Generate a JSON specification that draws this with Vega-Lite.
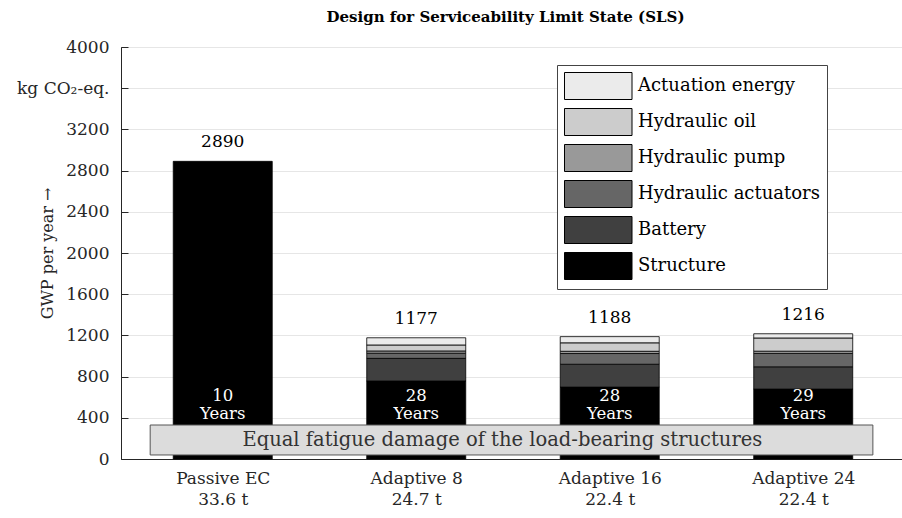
{
  "$schema": "https://vega.github.io/schema/vega-lite/v6.json",
  "autosize": "none",
  "width": 783,
  "height": 412,
  "padding": {"left": 121, "top": 47, "right": 0, "bottom": 59},
  "background": "#ffffff",
  "title": {
    "text": "Design for Serviceability Limit State (SLS)",
    "font": "DejaVu Serif",
    "fontSize": 15,
    "fontWeight": "bold",
    "color": "#000000",
    "anchor": "middle",
    "dx": -7,
    "offset": 13
  },
  "config": {
    "font": "DejaVu Serif",
    "view": {"stroke": "#262626", "strokeWidth": 1},
    "axis": {
      "labelFont": "DejaVu Serif",
      "labelFontSize": 17,
      "labelColor": "#262626",
      "titleFont": "DejaVu Serif",
      "titleFontSize": 16,
      "titleFontWeight": "normal",
      "titleColor": "#262626",
      "domainColor": "#262626",
      "tickColor": "#262626",
      "gridColor": "#e6e6e6"
    }
  },
  "datasets": {
    "parts": [
      {"pos": 1, "comp": "Structure", "val": 2890, "ord": 1},
      {"pos": 2, "comp": "Structure", "val": 757, "ord": 1},
      {"pos": 2, "comp": "Battery", "val": 220, "ord": 2},
      {"pos": 2, "comp": "Hydraulic actuators", "val": 50, "ord": 3},
      {"pos": 2, "comp": "Hydraulic pump", "val": 22, "ord": 4},
      {"pos": 2, "comp": "Hydraulic oil", "val": 58, "ord": 5},
      {"pos": 2, "comp": "Actuation energy", "val": 70, "ord": 6},
      {"pos": 3, "comp": "Structure", "val": 698, "ord": 1},
      {"pos": 3, "comp": "Battery", "val": 222, "ord": 2},
      {"pos": 3, "comp": "Hydraulic actuators", "val": 104, "ord": 3},
      {"pos": 3, "comp": "Hydraulic pump", "val": 22, "ord": 4},
      {"pos": 3, "comp": "Hydraulic oil", "val": 82, "ord": 5},
      {"pos": 3, "comp": "Actuation energy", "val": 60, "ord": 6},
      {"pos": 4, "comp": "Structure", "val": 679, "ord": 1},
      {"pos": 4, "comp": "Battery", "val": 216, "ord": 2},
      {"pos": 4, "comp": "Hydraulic actuators", "val": 130, "ord": 3},
      {"pos": 4, "comp": "Hydraulic pump", "val": 22, "ord": 4},
      {"pos": 4, "comp": "Hydraulic oil", "val": 128, "ord": 5},
      {"pos": 4, "comp": "Actuation energy", "val": 41, "ord": 6}
    ],
    "totals": [
      {"pos": 1, "total": 2890, "years": "10", "ylab": 614},
      {"pos": 2, "total": 1177, "years": "28", "ylab": 614},
      {"pos": 3, "total": 1188, "years": "28", "ylab": 614},
      {"pos": 4, "total": 1216, "years": "29", "ylab": 614}
    ],
    "note": [
      {"x1": 0.625, "x2": 4.36, "y1": 39, "y2": 330, "tx": 2.445, "ty": 184, "text": "Equal fatigue damage of the load-bearing structures"}
    ]
  },
  "layer": [
    {
      "data": {"name": "parts"},
      "mark": {"type": "bar", "size": 99, "stroke": "#000000", "strokeWidth": 0.8},
      "encoding": {
        "x": {
          "field": "pos", "type": "quantitative",
          "scale": {"domain": [0.5, 4.495], "nice": false, "zero": false},
          "axis": {
            "title": null,
            "values": [1, 2, 3, 4],
            "grid": false,
            "tickSize": -5,
            "labelPadding": 16,
            "labelLineHeight": 21,
            "labelExpr": "datum.value == 1 ? ['Passive EC', '33.6 t'] : datum.value == 2 ? ['Adaptive 8', '24.7 t'] : datum.value == 3 ? ['Adaptive 16', '22.4 t'] : ['Adaptive 24', '22.4 t']"
          }
        },
        "y": {
          "field": "val", "type": "quantitative", "stack": "zero",
          "scale": {"domain": [0, 4000], "nice": false},
          "axis": {
            "title": "GWP per year →",
            "values": [0, 400, 800, 1200, 1600, 2000, 2400, 2800, 3200, 3600, 4000],
            "format": "d",
            "grid": true,
            "tickSize": -7,
            "labelPadding": 19,
            "labelExpr": "datum.value == 3600 ? 'kg CO₂-eq.' : datum.label",
            "titleX": -74,
            "titleY": 206,
            "titleAngle": -90,
            "titleAlign": "center",
            "titleBaseline": "middle"
          }
        },
        "color": {
          "field": "comp", "type": "nominal",
          "scale": {
            "domain": ["Actuation energy", "Hydraulic oil", "Hydraulic pump", "Hydraulic actuators", "Battery", "Structure"],
            "range": ["#ebebeb", "#cccccc", "#999999", "#666666", "#404040", "#000000"]
          },
          "legend": {
            "title": null,
            "orient": "none",
            "legendX": 436,
            "legendY": 18,
            "symbolType": "M-1,-1H4V1H-1Z",
            "symbolSize": 729,
            "symbolStrokeColor": "#000000",
            "symbolStrokeWidth": 1,
            "symbolOpacity": 1,
            "labelFont": "DejaVu Serif",
            "labelFontSize": 18,
            "labelColor": "#000000",
            "labelLimit": 0,
            "labelOffset": 46,
            "rowPadding": 4,
            "padding": 7,
            "strokeColor": "#444444",
            "fillColor": "#ffffff"
          }
        },
        "order": {"field": "ord", "type": "quantitative"}
      }
    },
    {
      "data": {"name": "totals"},
      "mark": {"type": "text", "dy": -10, "baseline": "bottom", "fontSize": 17, "color": "#000000", "font": "DejaVu Serif"},
      "encoding": {
        "x": {"field": "pos", "type": "quantitative"},
        "y": {"field": "total", "type": "quantitative"},
        "text": {"field": "total", "type": "quantitative", "format": "d"}
      }
    },
    {
      "data": {"name": "totals"},
      "transform": [{"calculate": "[datum.years, 'Years']", "as": "lab"}],
      "mark": {"type": "text", "baseline": "middle", "lineHeight": 18, "fontSize": 16.5, "color": "#ffffff", "font": "DejaVu Serif"},
      "encoding": {
        "x": {"field": "pos", "type": "quantitative"},
        "y": {"field": "ylab", "type": "quantitative"},
        "text": {"field": "lab"}
      }
    },
    {
      "data": {"name": "note"},
      "mark": {"type": "rect", "fill": "#dcdcdc", "stroke": "#555555", "strokeWidth": 1},
      "encoding": {
        "x": {"field": "x1", "type": "quantitative"},
        "x2": {"field": "x2"},
        "y": {"field": "y1", "type": "quantitative"},
        "y2": {"field": "y2"}
      }
    },
    {
      "data": {"name": "note"},
      "mark": {"type": "text", "baseline": "middle", "fontSize": 19.5, "color": "#333333", "font": "DejaVu Serif"},
      "encoding": {
        "x": {"field": "tx", "type": "quantitative"},
        "y": {"field": "ty", "type": "quantitative"},
        "text": {"field": "text"}
      }
    }
  ]
}
